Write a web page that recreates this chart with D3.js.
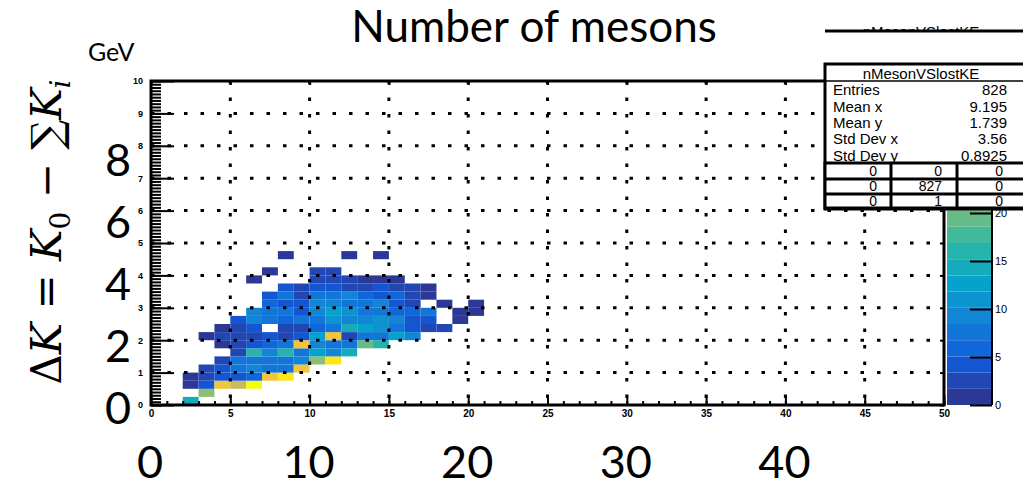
<!DOCTYPE html>
<html>
<head>
<meta charset="utf-8">
<script src="https://cdn.jsdelivr.net/npm/d3@7"></script>
<style>
  body { margin: 0; background: #fff; }
  svg text { fill: #000; }
</style>
</head>
<body>
<div id="chart"></div>
<script>
// x = number of mesons (unit bins from xStart), y = lost KE (GeV) in 0.25 bins
var xStart = 2;
var yBinWidth = 0.25;
// rows: y bin 0 (bottom) upward; columns: x = 2 .. 20
var counts = [
  [15,0,0,0,0,0,0,0,0,0,0,0,0,0,0,0,0,0,0],
  [0,21,0,0,0,0,0,0,0,0,0,0,0,0,0,0,0,0,0],
  [1,4,28,24,34,0,0,0,0,0,0,0,0,0,0,0,0,0,0],
  [1,3,4,5,6,28,32,0,0,0,0,0,0,0,0,0,0,0,0],
  [0,2,5,8,9,8,7,27,0,0,0,0,0,0,0,0,0,0,0],
  [0,0,2,7,8,8,7,9,21,32,0,0,0,0,0,0,0,0,0],
  [0,0,0,2,16,10,16,8,12,9,15,0,0,0,0,0,0,0,0],
  [0,0,1,2,4,6,7,27,10,8,7,20,16,0,0,0,0,0,0],
  [0,1,2,2,3,4,3,4,12,27,2,8,7,12,10,0,0,0,0],
  [0,0,1,3,4,0,3,3,6,7,15,13,11,7,5,3,2,0,0],
  [0,0,0,5,9,7,6,7,8,11,10,9,11,9,4,4,0,1,0],
  [0,0,0,0,9,7,7,4,10,12,11,8,7,6,6,7,0,1,1],
  [0,0,0,0,0,6,4,4,9,10,8,7,9,4,3,0,1,0,1],
  [0,0,0,0,0,4,7,3,8,7,9,6,4,6,3,1,0,0,0],
  [0,0,0,0,0,0,5,3,4,4,3,2,4,3,2,1,0,0,0],
  [0,0,0,0,1,0,0,0,2,3,2,1,1,1,0,0,0,0,0],
  [0,0,0,0,0,1,0,0,2,2,0,0,0,0,0,0,0,0,0],
  [0,0,0,0,0,0,0,0,0,0,0,0,0,0,0,0,0,0,0],
  [0,0,0,0,0,0,1,0,0,0,1,0,1,0,0,0,0,0,0]
];
var xTicks = [0,5,10,15,20,25,30,35,40,45,50];
var yTicks = [0,1,2,3,4,5,6,7,8,9,10];
var xGrid = [5,10,15,20,25,30,35,40,45];
var yGrid = [1,2,3,4,5,6,7,8,9];
var zTicks = [0,5,10,15,20];
var zMax = 33.75;
var nLevels = 20;
var bigXValues = [0,10,20,30,40];
var bigYValues = [0,2,4,6,8];
var statsTitle = "nMesonVSlostKE";
var statsLabels = ["Entries","Mean x","Mean y","Std Dev x","Std Dev y"];
var statsValues = ["828","9.195","1.739","3.56","0.8925"];
var cellTable = [["0","0","0"],["0","827","0"],["0","1","0"]];
var birdStops = ["#2c3896","#0f5cdd","#1481d6","#06a4ca","#2eb7a4","#87bf77","#d1bb59","#fec832","#f9fb0e"];

var width = 1023, height = 494;
var rootFont = "'Liberation Sans', Arial, sans-serif";
var slideFont = "Lato, 'Open Sans', sans-serif";

var svg = d3.select("#chart").append("svg")
    .attr("width", width)
    .attr("height", height);
svg.append("rect").attr("width", width).attr("height", height).attr("fill", "#fff");

// scales
var x = d3.scaleLinear().domain([0, 50]).range([151, 944]);
var y = d3.scaleLinear().domain([0, 10]).range([405, 81]);
var zs = d3.scaleLinear().domain([0, zMax]).range([405, 81]);
var bird = d3.scaleLinear()
    .domain(birdStops.map(function (d, i) { return i / (birdStops.length - 1); }))
    .range(birdStops)
    .interpolate(d3.interpolateRgb);
function levelColor(v) {
    var lev = Math.min(nLevels - 1, Math.floor(v / zMax * nLevels));
    return bird(lev / (nLevels - 1));
}

// flatten the grid into cells
var cells = [];
counts.forEach(function (row, j) {
    row.forEach(function (v, i) {
        if (v > 0) cells.push({ x0: xStart + i, y0: j * yBinWidth, v: v });
    });
});

// bins
svg.append("g").selectAll("rect")
    .data(cells)
    .enter().append("rect")
    .attr("x", function (d) { return x(d.x0); })
    .attr("y", function (d) { return y(d.y0 + yBinWidth); })
    .attr("width", function (d) { return x(d.x0 + 1) - x(d.x0); })
    .attr("height", function (d) { return y(d.y0) - y(d.y0 + yBinWidth); })
    .attr("fill", function (d) { return levelColor(d.v); });

// dotted grid
var grid = svg.append("g")
    .attr("stroke", "#000")
    .attr("stroke-width", 3)
    .attr("stroke-dasharray", "3.5,13");
grid.selectAll(".gx").data(xGrid).enter().append("line")
    .attr("x1", function (d) { return x(d); }).attr("x2", function (d) { return x(d); })
    .attr("y1", y(10)).attr("y2", y(0));
grid.selectAll(".gy").data(yGrid).enter().append("line")
    .attr("x1", x(0)).attr("x2", x(50))
    .attr("y1", function (d) { return y(d); }).attr("y2", function (d) { return y(d); });

// axes
function styleAxis(g, size) {
    g.select(".domain").remove();
    g.selectAll(".tick line").attr("stroke", "#000").attr("stroke-width", 2);
    g.selectAll("text").attr("font-family", rootFont).attr("font-size", size)
        .attr("font-weight", "bold").attr("fill", "#000");
}
svg.append("g").attr("transform", "translate(" + x(0) + ",0)")
    .call(d3.axisLeft(y).ticks(100).tickSize(-10).tickFormat(""))
    .call(styleAxis, 9);
svg.append("g").attr("transform", "translate(" + x(0) + ",0)")
    .call(d3.axisLeft(y).tickValues(yTicks).tickSizeInner(-23).tickSizeOuter(0).tickPadding(8))
    .call(styleAxis, 9);
svg.append("g").attr("transform", "translate(0," + y(0) + ")")
    .call(d3.axisBottom(x).ticks(50).tickSize(-4).tickFormat(""))
    .call(styleAxis, 10);
svg.append("g").attr("transform", "translate(0," + y(0) + ")")
    .call(d3.axisBottom(x).tickValues(xTicks).tickSizeInner(-10).tickSizeOuter(0).tickPadding(5))
    .call(styleAxis, 10);
svg.append("g").attr("transform", "translate(0," + y(10) + ")")
    .call(d3.axisTop(x).tickValues(xTicks).tickSize(-4).tickFormat(""))
    .call(styleAxis, 10);
svg.append("g").attr("transform", "translate(" + x(50) + ",0)")
    .call(d3.axisRight(y).tickValues(yTicks).tickSize(-4).tickFormat(""))
    .call(styleAxis, 10);

// frame
svg.append("rect")
    .attr("x", x(0)).attr("y", y(10))
    .attr("width", x(50) - x(0)).attr("height", y(0) - y(10))
    .attr("fill", "none").attr("stroke", "#000").attr("stroke-width", 3);

// palette
var palX = 947, palW = 45;
var bands = d3.range(nLevels);
svg.append("g").selectAll("rect")
    .data(bands)
    .enter().append("rect")
    .attr("x", palX)
    .attr("y", function (i) { return zs((i + 1) * zMax / nLevels); })
    .attr("width", palW)
    .attr("height", function (i) { return zs(i * zMax / nLevels) - zs((i + 1) * zMax / nLevels); })
    .attr("fill", function (i) { return bird(i / (nLevels - 1)); });
svg.append("line")
    .attr("x1", palX + palW).attr("x2", palX + palW)
    .attr("y1", zs(0)).attr("y2", zs(zMax))
    .attr("stroke", "#000").attr("stroke-width", 2);
svg.append("g").attr("transform", "translate(" + (palX + palW) + ",0)")
    .call(d3.axisRight(zs).tickValues(zTicks).tickSizeInner(-22).tickSizeOuter(0).tickPadding(3))
    .call(styleAxis, 11)
    .selectAll("text").attr("font-weight", "normal");

// stats box
var sb = svg.append("g");
var bx = 825, bw = 210;
sb.append("rect").attr("x", bx).attr("y", 64).attr("width", bw).attr("height", 145)
    .attr("fill", "#fff").attr("stroke", "#000").attr("stroke-width", 3);
sb.append("line").attr("x1", bx).attr("x2", bx + bw).attr("y1", 81).attr("y2", 81)
    .attr("stroke", "#000").attr("stroke-width", 1.5);
sb.append("text").attr("x", 921).attr("y", 79).attr("text-anchor", "middle")
    .attr("font-family", rootFont).attr("font-size", 15).text(statsTitle);
var rowBase = [95, 112, 128, 144, 161];
statsLabels.forEach(function (lab, i) {
    sb.append("text").attr("x", 833).attr("y", rowBase[i])
        .attr("font-family", rootFont).attr("font-size", 15).text(lab);
    sb.append("text").attr("x", 1007).attr("y", rowBase[i]).attr("text-anchor", "end")
        .attr("font-family", rootFont).attr("font-size", 15).text(statsValues[i]);
});
// under/overflow table
var tTop = 163, tRow = 15, colX = [825, 891, 957, 1030];
sb.append("rect").attr("x", bx).attr("y", tTop).attr("width", bw).attr("height", tRow * 3)
    .attr("fill", "#fff").attr("stroke", "#000").attr("stroke-width", 3);
[1, 2].forEach(function (k) {
    sb.append("line").attr("x1", bx).attr("x2", bx + bw)
        .attr("y1", tTop + k * tRow + 1).attr("y2", tTop + k * tRow + 1)
        .attr("stroke", "#000").attr("stroke-width", 3);
});
[1, 2].forEach(function (k) {
    sb.append("line").attr("x1", colX[k]).attr("x2", colX[k])
        .attr("y1", tTop).attr("y2", tTop + tRow * 3)
        .attr("stroke", "#000").attr("stroke-width", 3);
});
var cellRight = [877, 942, 1003];
cellTable.forEach(function (row, r) {
    row.forEach(function (v, c) {
        sb.append("text").attr("x", cellRight[c]).attr("y", tTop + r * tRow + 13)
            .attr("text-anchor", "end")
            .attr("font-family", rootFont).attr("font-size", 14).text(v);
    });
});

// clipped edge of an older stats box peeking above
var clip = svg.append("defs").append("clipPath").attr("id", "ghostClip");
clip.append("rect").attr("x", 820).attr("y", 25).attr("width", 210).attr("height", 6);
svg.append("text").attr("x", 921).attr("y", 37).attr("text-anchor", "middle")
    .attr("clip-path", "url(#ghostClip)")
    .attr("font-family", rootFont).attr("font-size", 15).text(statsTitle);
svg.append("line").attr("x1", 825).attr("x2", 1023).attr("y1", 31).attr("y2", 31)
    .attr("stroke", "#000").attr("stroke-width", 3);

// slide overlay text
svg.append("text").attr("x", 534).attr("y", 42).attr("text-anchor", "middle")
    .attr("font-family", slideFont).attr("font-size", 44).text("Number of mesons");
svg.append("text").attr("x", 88).attr("y", 61)
    .attr("font-family", slideFont).attr("font-size", 25).text("GeV");

var bigY = d3.scaleLinear().domain([0, 8]).range([408, 160]);
svg.append("g").selectAll("text").data(bigYValues).enter().append("text")
    .attr("x", 118).attr("y", function (d) { return bigY(d) + 16; })
    .attr("text-anchor", "middle")
    .attr("font-family", slideFont).attr("font-size", 45)
    .text(function (d) { return d; });
svg.append("g").selectAll("text").data(bigXValues).enter().append("text")
    .attr("x", function (d) { return x(d) - 1; }).attr("y", 478)
    .attr("text-anchor", "middle")
    .attr("font-family", slideFont).attr("font-size", 45)
    .text(function (d) { return d; });

// y title: ΔK = K0 − ΣKi
var yt = svg.append("text")
    .attr("transform", "translate(61,232) rotate(-90)")
    .attr("text-anchor", "middle")
    .attr("font-family", "'DejaVu Serif', 'Liberation Serif', serif")
    .attr("font-size", 42);
yt.append("tspan").text("\u0394");
yt.append("tspan").attr("font-style", "italic").text("K");
yt.append("tspan").text(" = ");
yt.append("tspan").attr("font-style", "italic").text("K");
yt.append("tspan").attr("font-size", 28).attr("dy", 9).text("0");
yt.append("tspan").attr("dy", -9).text(" \u2212 \u2211");
yt.append("tspan").attr("font-style", "italic").text("K");
yt.append("tspan").attr("font-size", 28).attr("font-style", "italic").attr("dy", 9).text("i");
</script>
</body>
</html>
